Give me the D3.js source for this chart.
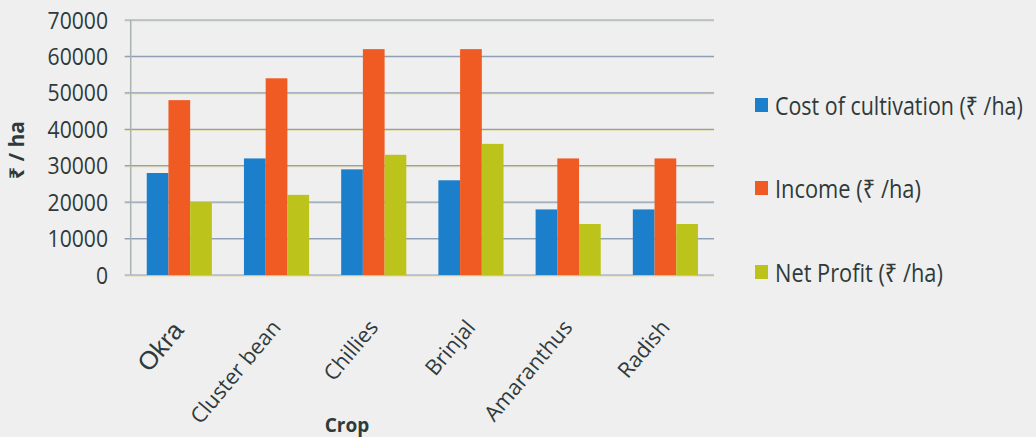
<!DOCTYPE html>
<html>
<head>
<meta charset="utf-8">
<script src="https://cdn.jsdelivr.net/npm/d3@7"></script>
<style>
  html, body { margin: 0; padding: 0; background: #efefef; }
  svg { display: block; }
</style>
</head>
<body>
<svg id="chart" width="1036" height="437"></svg>
<script>
const crops = ["Okra", "Cluster bean", "Chillies", "Brinjal", "Amaranthus", "Radish"];
const seriesNames = ["Cost of cultivation (₹ /ha)", "Income (₹ /ha)", "Net Profit (₹ /ha)"];
const costValues = [28000, 32000, 29000, 26000, 18000, 18000];
const incomeValues = [48000, 54000, 62000, 62000, 32000, 32000];
const profitValues = [20000, 22000, 33000, 36000, 14000, 14000];
const yTicks = [0, 10000, 20000, 30000, 40000, 50000, 60000, 70000];
const yTitle = "₹ / ha";
const xTitle = "Crop";

const colors = ["#1b7fcc", "#f05a23", "#bcc41c"];
const seriesValues = [costValues, incomeValues, profitValues];

const svg = d3.select("#chart");
const plotLeft = 130.7, plotRight = 714, plotTop = 20, plotBottom = 275;
const textColor = "#2f3a3a";
const font = "'Open Sans', 'Noto Sans', sans-serif";

const x = d3.scaleBand().domain(crops).range([plotLeft, plotRight]).paddingInner(0.33).paddingOuter(0.165);
const xs = d3.scaleBand().domain(d3.range(seriesNames.length)).range([0, x.bandwidth()]);
const y = d3.scaleLinear().domain([0, 70000]).range([plotBottom, plotTop]);

// squeeze a text horizontally to a target width using a transform
function squeeze(sel, target) {
  sel.each(function(d, i) {
    const w = this.getComputedTextLength();
    const t = typeof target === "function" ? target.call(this, d, i, w) : target;
    const s = t / w;
    const base = this.getAttribute("data-base") || "";
    this.setAttribute("transform", `${base} scale(${s},1)`);
  });
}

// gridlines
const grid = svg.append("g");
grid.selectAll("line.gy").data(yTicks).join("line")
  .attr("class", "gy")
  .attr("x1", plotLeft - 6).attr("x2", plotRight)
  .attr("y1", d => y(d) + 1).attr("y2", d => y(d) + 1)
  .attr("stroke", "#e3d9a8").attr("stroke-width", 1);
grid.selectAll("line.g").data(yTicks).join("line")
  .attr("class", "g")
  .attr("x1", plotLeft - 6).attr("x2", plotRight)
  .attr("y1", d => y(d)).attr("y2", d => y(d))
  .attr("stroke", "#8f9fb6").attr("stroke-width", 1.2);
// vertical axis line
svg.append("line")
  .attr("x1", plotLeft).attr("x2", plotLeft).attr("y1", y(70000)).attr("y2", y(0))
  .attr("stroke", "#a9b4b0").attr("stroke-width", 1.5);

// bars
const groups = svg.append("g").selectAll("g").data(crops).join("g")
  .attr("transform", d => `translate(${x(d)},0)`);
groups.selectAll("rect").data((d, i) => seriesValues.map((s, k) => ({k, v: s[i]}))).join("rect")
  .attr("x", d => xs(d.k))
  .attr("width", xs.bandwidth())
  .attr("y", d => y(d.v))
  .attr("height", d => y(0) - y(d.v))
  .attr("fill", d => colors[d.k]);

// y tick labels
svg.append("g").selectAll("g").data(yTicks).join("g")
  .attr("transform", d => `translate(108,${y(d) + 8.5})`)
  .append("text")
  .attr("text-anchor", "end")
  .attr("font-family", font).attr("font-size", 23.5)
  .attr("fill", textColor)
  .text(d => d)
  .call(squeeze, (d, i, w) => w * 0.9);

// y title
svg.append("text")
  .attr("transform", `translate(24,150) rotate(-90)`)
  .attr("text-anchor", "middle")
  .attr("font-family", font).attr("font-weight", "bold").attr("font-size", 21)
  .attr("fill", textColor)
  .text(yTitle);

// x category labels
svg.append("g").selectAll("text").data(crops).join("text")
  .attr("transform", d => `translate(${x(d) + x.bandwidth() / 2 + 5.5},${d === "Okra" ? 331 : 328}) rotate(-50)`)
  .attr("text-anchor", "end")
  .attr("font-family", d => d === "Okra" ? "'Liberation Sans', Arial, sans-serif" : font)
  .attr("font-size", d => d === "Okra" ? 25.5 : 21.5)
  .attr("fill", textColor)
  .text(d => d);

// x title
svg.append("text")
  .attr("x", 347).attr("y", 432)
  .attr("text-anchor", "middle")
  .attr("font-family", font).attr("font-weight", "bold").attr("font-size", 19)
  .attr("fill", textColor)
  .text(xTitle);

// legend
const legendY = [115, 198, 282];
const legendW = [248, 146, 168];
const lg = svg.append("g").selectAll("g").data(seriesNames).join("g")
  .attr("transform", (d, i) => `translate(755,${legendY[i]})`);
lg.append("rect").attr("x", 0).attr("y", -17).attr("width", 13).attr("height", 14)
  .attr("fill", (d, i) => colors[i]);
lg.append("g").attr("transform", "translate(20,0)")
  .append("text")
  .attr("font-family", font).attr("font-size", 25)
  .attr("fill", textColor)
  .text(d => d)
  .call(squeeze, (d, i) => legendW[seriesNames.indexOf(d)]);
</script>
</body>
</html>
